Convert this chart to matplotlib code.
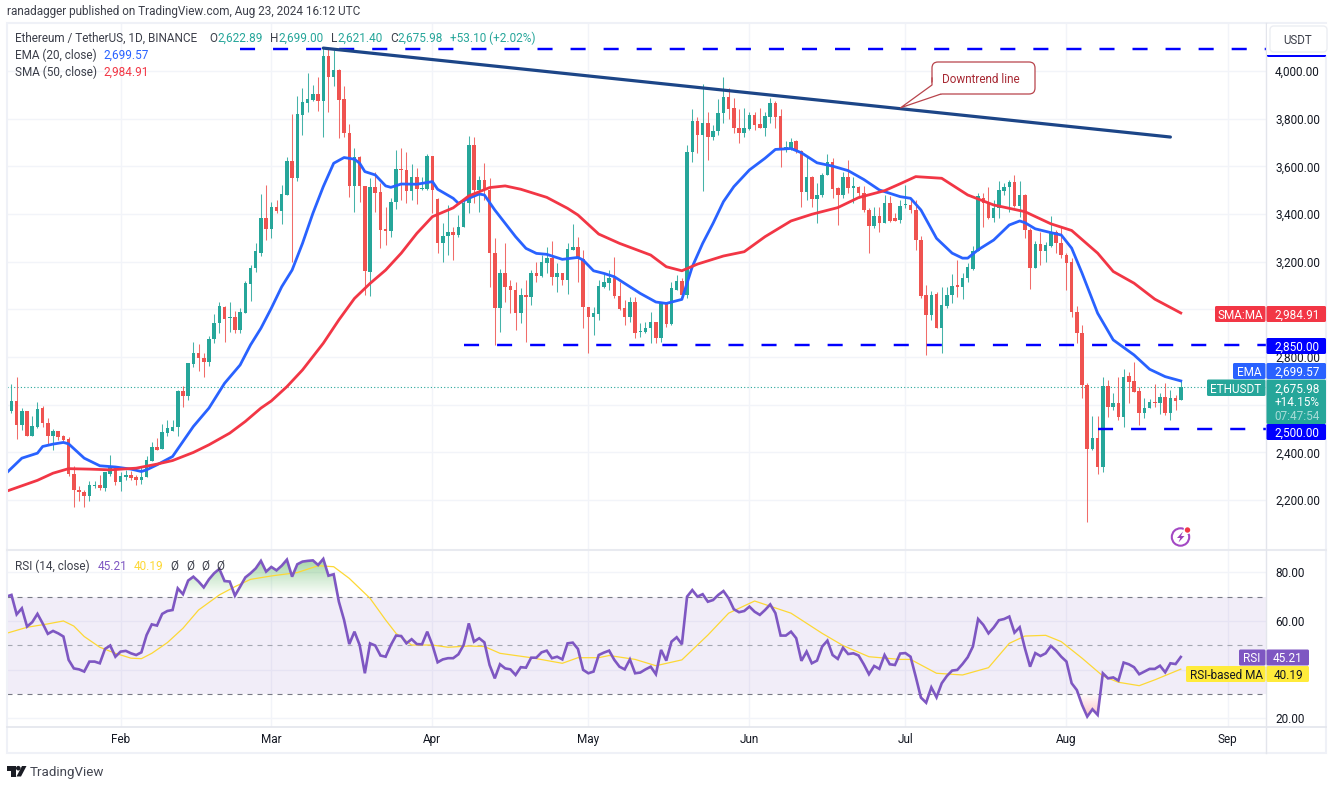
import numpy as np
import pandas as pd
import matplotlib
matplotlib.use('Agg')
import matplotlib.pyplot as plt
import matplotlib.dates as mdates
from matplotlib.path import Path
from matplotlib.patches import Circle, FancyBboxPatch, Polygon, Rectangle

plt.rcParams['font.family'] = ['Roboto', 'DejaVu Sans']

start_date = '2024-01-10'

# daily candles, Jan 10 -> Aug 23
opens = [
    2340, 2574, 2616, 2516, 2574, 2467, 2506, 2588, 2525, 2467, 2488, 2470, 2456, 2311, 2244, 2232, 2216, 2258, 2265, 2251, 2311, 2341,
    2274, 2299, 2306, 2295, 2283, 2297, 2365, 2422, 2415, 2481, 2492, 2505, 2658, 2635, 2770, 2816, 2798, 2778, 2876, 2942, 3011, 2963, 2970, 2914, 2984, 3105, 3175, 3238, 3382,
    3336, 3431, 3414, 3480, 3624, 3550, 3816, 3865, 3879, 3904, 3874, 4063, 3976, 4004, 3881, 3739, 3518, 3641, 3518, 3155, 3515, 3494, 3336, 3327, 3452, 3588, 3585, 3498, 3557, 3504, 3504,
    3645, 3464, 3278, 3306, 3326, 3312, 3347, 3448, 3690, 3501, 3543, 3501, 3235, 3005, 3151, 3098, 3081, 2983, 3060, 3053, 3151, 3140, 3196, 3214, 3134, 3151, 3123, 3249, 3260, 3211,
    3011, 2967, 2981, 3095, 3112, 3130, 3056, 3005, 2970, 3032, 2906, 2906, 2923, 2946, 2879, 3025, 2939, 3081, 3120, 3060, 3662, 3792, 3731, 3780, 3725, 3750, 3822, 3892, 3843, 3759, 3741,
    3755, 3815, 3776, 3762, 3808, 3864, 3811, 3669, 3676, 3706, 3666, 3494, 3557, 3462, 3480, 3564, 3617, 3508, 3480, 3557, 3508, 3515, 3490, 3417, 3350, 3392, 3364, 3445, 3382, 3375,
    3438, 3438, 3417, 3291, 3061, 2977, 3065, 2924, 3015, 3061, 3101, 3096, 3131, 3168, 3247, 3466, 3445, 3382, 3424, 3498, 3515, 3535, 3434, 3480, 3333, 3173, 3275, 3247, 3266, 3326, 3277,
    3229, 3197, 2987, 2900, 2683, 2414, 2460, 2340, 2679, 2592, 2609, 2548, 2721, 2700, 2658, 2564, 2585, 2613, 2606, 2632, 2567, 2627, 2622,
]
highs = [
    2578, 2688, 2715, 2586, 2575, 2551, 2611, 2593, 2544, 2498, 2491, 2474, 2463, 2345, 2260, 2241, 2279, 2279, 2306, 2320, 2390, 2344,
    2320, 2327, 2323, 2304, 2339, 2387, 2443, 2460, 2520, 2535, 2537, 2660, 2680, 2776, 2865, 2855, 2819, 2889, 2981, 3030, 3014, 3032, 2993, 3004, 3120, 3185, 3278, 3484, 3522,
    3452, 3459, 3522, 3638, 3820, 3895, 3928, 3993, 3942, 3975, 4095, 4091, 4088, 4007, 3935, 3778, 3676, 3644, 3518, 3550, 3578, 3532, 3431, 3466, 3669, 3676, 3662, 3610, 3592, 3557, 3652,
    3645, 3466, 3361, 3438, 3347, 3396, 3458, 3727, 3722, 3561, 3615, 3550, 3298, 3168, 3277, 3123, 3116, 3088, 3123, 3165, 3200, 3228, 3260, 3288, 3193, 3151, 3280, 3358, 3302, 3249,
    3011, 3011, 3123, 3151, 3165, 3218, 3116, 3040, 3053, 3051, 2941, 2949, 2990, 2949, 3032, 3032, 3116, 3144, 3130, 3690, 3839, 3808, 3945, 3829, 3773, 3881, 3976, 3927, 3885, 3839, 3846,
    3829, 3829, 3846, 3829, 3885, 3875, 3839, 3706, 3717, 3710, 3669, 3640, 3560, 3529, 3571, 3652, 3634, 3515, 3578, 3627, 3557, 3518, 3518, 3424, 3431, 3431, 3480, 3476, 3403, 3459,
    3522, 3466, 3459, 3308, 3103, 3078, 3075, 3096, 3096, 3149, 3208, 3152, 3196, 3266, 3490, 3487, 3512, 3459, 3540, 3529, 3543, 3564, 3540, 3484, 3340, 3285, 3326, 3284, 3392, 3333, 3347,
    3235, 3215, 3016, 2935, 2693, 2553, 2553, 2718, 2704, 2648, 2715, 2749, 2736, 2778, 2676, 2627, 2623, 2687, 2648, 2690, 2662, 2641, 2699,
]
lows = [
    2341, 2565, 2457, 2495, 2467, 2467, 2502, 2506, 2432, 2411, 2453, 2449, 2302, 2170, 2195, 2170, 2195, 2251, 2244, 2237, 2300, 2265,
    2239, 2283, 2285, 2262, 2267, 2297, 2365, 2411, 2415, 2470, 2490, 2471, 2590, 2620, 2760, 2740, 2718, 2763, 2858, 2900, 2865, 2907, 2903, 2903, 2984, 3036, 3158, 3222, 3291,
    3298, 3403, 3357, 3480, 3200, 3540, 3732, 3830, 3874, 3832, 3722, 3830, 3935, 3720, 3725, 3473, 3410, 3452, 3060, 3056, 3410, 3257, 3270, 3303, 3420, 3459, 3445, 3459, 3442, 3500, 3501,
    3403, 3236, 3200, 3230, 3207, 3305, 3347, 3406, 3448, 3410, 3459, 3095, 2850, 2907, 3033, 2983, 2914, 2942, 2865, 3018, 3116, 3137, 3151, 3102, 3072, 3102, 3063, 3249, 3116, 2920,
    2816, 2893, 2956, 3088, 3081, 3046, 2997, 2935, 2949, 2879, 2886, 2900, 2860, 2860, 2865, 2928, 2935, 3081, 3053, 3046, 3620, 3655, 3498, 3627, 3710, 3731, 3780, 3800, 3738, 3699, 3724,
    3752, 3752, 3759, 3727, 3780, 3759, 3599, 3662, 3669, 3655, 3431, 3459, 3428, 3361, 3473, 3564, 3466, 3354, 3466, 3487, 3445, 3466, 3410, 3238, 3340, 3326, 3361, 3368, 3372, 3361,
    3424, 3406, 3250, 3047, 2809, 2956, 2921, 2819, 3005, 3026, 3051, 3043, 3113, 3166, 3243, 3347, 3378, 3368, 3382, 3480, 3410, 3431, 3387, 3298, 3085, 3173, 3187, 3200, 3263, 3235, 3215,
    3082, 2967, 2858, 2630, 2110, 2410, 2310, 2320, 2550, 2576, 2536, 2506, 2609, 2655, 2516, 2546, 2585, 2592, 2562, 2557, 2534, 2578, 2621,
]
closes = [
    2578, 2616, 2516, 2574, 2467, 2509, 2583, 2525, 2467, 2488, 2463, 2453, 2311, 2241, 2232, 2216, 2265, 2265, 2251, 2316, 2341, 2274,
    2302, 2306, 2292, 2283, 2297, 2369, 2422, 2411, 2485, 2502, 2505, 2658, 2635, 2774, 2816, 2795, 2778, 2876, 2942, 3014, 2960, 2970, 2914, 2988, 3109, 3175, 3243, 3382, 3336,
    3428, 3414, 3484, 3624, 3550, 3820, 3869, 3881, 3904, 3874, 4063, 3976, 4004, 3879, 3739, 3518, 3641, 3518, 3160, 3515, 3490, 3333, 3327, 3452, 3588, 3585, 3498, 3557, 3504, 3511, 3645,
    3501, 3278, 3308, 3326, 3312, 3347, 3448, 3690, 3501, 3543, 3501, 3235, 3005, 3151, 3095, 3081, 2983, 3060, 3053, 3151, 3140, 3200, 3214, 3134, 3151, 3123, 3252, 3260, 3211, 3009,
    2967, 2984, 3098, 3116, 3130, 3056, 3002, 2970, 3032, 2900, 2909, 2923, 2946, 2879, 3032, 2939, 3088, 3120, 3060, 3662, 3792, 3731, 3780, 3725, 3750, 3822, 3892, 3839, 3759, 3741, 3759,
    3815, 3773, 3762, 3811, 3864, 3808, 3669, 3680, 3701, 3669, 3494, 3557, 3462, 3480, 3564, 3617, 3504, 3480, 3557, 3508, 3518, 3487, 3417, 3350, 3392, 3364, 3445, 3372, 3372, 3434,
    3442, 3417, 3291, 3057, 2977, 3061, 2921, 3019, 3061, 3099, 3096, 3131, 3177, 3247, 3476, 3445, 3382, 3424, 3501, 3515, 3535, 3434, 3480, 3333, 3173, 3275, 3247, 3269, 3326, 3277, 3229,
    3194, 2987, 2900, 2683, 2414, 2460, 2340, 2677, 2592, 2609, 2548, 2718, 2697, 2655, 2564, 2585, 2611, 2609, 2632, 2567, 2627, 2616, 2676,
]

# RSI (14), one value per day
rsi = [
    70.0, 70.7, 62.7, 65.2, 57.7, 59.5, 62.9, 59.0, 54.7, 55.9, 54.9, 53.6, 44.0, 40.5, 40.1, 39.2, 43.3, 43.3, 42.6, 48.5, 49.9, 45.3,
    47.4, 47.7, 46.7, 46.0, 47.1, 54.2, 58.6, 58.1, 62.9, 64.1, 64.5, 73.4, 71.0, 76.6, 78.2, 76.2, 73.8, 77.1, 79.6, 81.4, 76.4, 76.2, 70.4, 74.1, 77.9, 79.6, 81.6, 84.7, 80.3,
    82.2, 80.8, 82.7, 85.2, 78.2, 83.3, 84.4, 84.7, 84.9, 83.0, 85.5, 78.6, 79.2, 67.9, 60.4, 50.5, 55.6, 50.1, 38.5, 50.8, 49.9, 45.8, 45.3, 50.1, 54.0, 53.8, 50.8, 52.5, 50.5, 50.4, 55.6,
    50.1, 43.0, 44.2, 44.7, 44.7, 46.3, 50.1, 59.0, 51.5, 52.9, 51.2, 41.9, 36.4, 42.2, 40.5, 40.1, 37.8, 41.0, 40.8, 44.9, 44.9, 47.1, 47.8, 44.7, 45.3, 44.2, 50.8, 51.1, 48.5, 39.9,
    38.5, 39.2, 46.0, 47.0, 47.8, 44.0, 41.2, 40.1, 44.2, 38.5, 38.8, 40.1, 41.2, 38.1, 48.1, 43.7, 51.5, 53.3, 50.4, 70.0, 72.7, 70.0, 71.0, 67.9, 68.6, 70.7, 72.3, 69.3, 64.8, 63.6, 64.1,
    65.9, 63.8, 62.5, 64.5, 66.8, 63.2, 54.0, 54.0, 55.6, 52.9, 43.6, 47.4, 42.6, 43.7, 49.5, 51.9, 46.0, 44.4, 49.0, 46.4, 46.7, 45.8, 42.2, 38.1, 41.5, 40.3, 46.0, 42.2, 41.9, 46.6,
    46.8, 45.3, 37.1, 28.5, 26.4, 32.7, 28.6, 34.4, 37.4, 39.6, 39.9, 42.3, 45.1, 49.5, 60.8, 58.4, 54.9, 57.3, 60.3, 60.8, 61.8, 55.2, 57.4, 48.8, 41.2, 46.8, 45.6, 46.7, 49.7, 47.8, 45.3,
    43.3, 34.4, 31.6, 25.5, 20.7, 23.7, 21.4, 38.5, 36.4, 36.8, 35.5, 42.9, 42.2, 41.0, 38.1, 39.2, 40.3, 40.3, 41.6, 38.9, 42.6, 42.3, 45.2,
]

# moving averages, read every few days
ema_dates = ['01-10', '01-13', '01-16', '01-17', '01-19', '01-21', '01-22', '01-25', '01-28', '01-31', '02-03', '02-05', '02-06', '02-08',
             '02-11', '02-13', '02-15', '02-18', '02-21', '02-24', '02-26', '02-28', '03-01', '03-03', '03-05', '03-07', '03-09', '03-11',
             '03-13', '03-15', '03-17', '03-18', '03-19', '03-21', '03-23', '03-24', '03-26', '03-29', '04-01', '04-02', '04-05', '04-06',
             '04-08', '04-10', '04-11', '04-13', '04-15', '04-17', '04-19', '04-21', '04-23', '04-26', '04-29', '04-30', '05-02', '05-04',
             '05-06', '05-09', '05-11', '05-14', '05-16', '05-19', '05-21', '05-23', '05-25', '05-27', '05-29', '06-01', '06-04', '06-06',
             '06-09', '06-11', '06-14', '06-17', '06-20', '06-23', '06-26', '06-30', '07-02', '07-04', '07-07', '07-10', '07-12', '07-13',
             '07-15', '07-18', '07-21', '07-23', '07-24', '07-26', '07-29', '07-31', '08-02', '08-04', '08-07', '08-10', '08-14', '08-17',
             '08-20', '08-23']
ema_values = [2313, 2376, 2397, 2425, 2435, 2442, 2436, 2376, 2344, 2339, 2330, 2320, 2327, 2348,
              2383, 2446, 2509, 2586, 2690, 2767, 2851, 2921, 3005, 3095, 3165, 3277, 3403, 3515,
              3613, 3637, 3630, 3613, 3578, 3564, 3518, 3512, 3526, 3525, 3536, 3504, 3466, 3445,
              3466, 3484, 3480, 3417, 3361, 3305, 3256, 3235, 3231, 3210, 3218, 3207, 3162, 3151,
              3137, 3095, 3067, 3031, 3025, 3042, 3179, 3277, 3361, 3452, 3515, 3585, 3634, 3671,
              3675, 3657, 3615, 3601, 3582, 3545, 3501, 3473, 3466, 3417, 3298, 3236, 3215, 3215,
              3250, 3291, 3354, 3371, 3364, 3338, 3322, 3312, 3257, 3152, 2984, 2872, 2809, 2749,
              2718, 2700]

sma_dates = ['01-10', '01-16', '01-19', '01-22', '01-26', '01-30', '02-04', '02-08', '02-11', '02-15', '02-18', '02-22', '02-25', '02-28',
             '03-01', '03-04', '03-07', '03-11', '03-14', '03-17', '03-20', '03-23', '03-26', '03-29', '04-01', '04-05', '04-08', '04-12',
             '04-15', '04-18', '04-23', '04-27', '04-29', '05-03', '05-07', '05-13', '05-16', '05-19', '05-22', '05-27', '05-31', '06-04',
             '06-09', '06-13', '06-18', '06-22', '06-27', '06-30', '07-03', '07-08', '07-13', '07-18', '07-24', '07-29', '08-02', '08-07',
             '08-10', '08-14', '08-18', '08-23']
sma_values = [2237, 2283, 2313, 2332, 2330, 2327, 2334, 2351, 2366, 2400, 2432, 2481, 2530, 2586,
              2616, 2676, 2746, 2858, 2956, 3046, 3109, 3165, 3236, 3319, 3389, 3426, 3476, 3511,
              3518, 3504, 3470, 3424, 3396, 3316, 3277, 3228, 3179, 3162, 3190, 3224, 3242, 3305,
              3371, 3399, 3427, 3469, 3498, 3527, 3557, 3550, 3480, 3438, 3410, 3359, 3331, 3236,
              3159, 3110, 3043, 2985]

rsi_ma_dates = ['01-10', '01-14', '01-18', '01-21', '01-23', '01-25', '01-28', '01-31', '02-03', '02-05', '02-07', '02-10', '02-13', '02-16',
                '02-20', '02-23', '02-26', '03-01', '03-06', '03-10', '03-13', '03-16', '03-20', '03-23', '03-25', '03-28', '04-01', '04-04',
                '04-08', '04-11', '04-14', '04-20', '04-26', '04-29', '05-03', '05-05', '05-10', '05-14', '05-19', '05-24', '05-28', '06-02',
                '06-09', '06-15', '06-19', '06-24', '06-30', '07-02', '07-07', '07-12', '07-17', '07-21', '07-24', '07-28', '07-31', '08-04',
                '08-08', '08-11', '08-15', '08-18', '08-23']
rsi_ma_values = [54.9, 57.4, 58.8, 60.0, 57.9, 53.6, 49.2, 46.7, 44.7, 44.5, 46.7, 51.1, 57.0, 64.5,
                 70.7, 74.1, 77.1, 78.5, 79.9, 82.7, 82.3, 77.5, 69.3, 60.4, 54.9, 50.1, 50.1, 49.2,
                 49.7, 49.5, 46.7, 44.9, 42.6, 44.9, 44.9, 45.8, 44.2, 41.6, 44.0, 54.2, 63.2, 68.2,
                 63.2, 54.9, 49.9, 45.3, 44.2, 44.2, 38.5, 37.8, 40.8, 50.8, 53.8, 54.1, 51.5, 44.7,
                 37.4, 34.8, 33.4, 35.8, 40.2]

# hand drawn levels on the chart: price, first day
levels = [(4094, '2024-02-24'), (2850, '2024-04-07'), (2500, '2024-08-07')]
trend_dates = ['2024-03-11', '2024-08-21']
trend_prices = [4096, 3723]

month_dates = ['2024-02-01', '2024-03-01', '2024-04-01', '2024-05-01', '2024-06-01', '2024-07-01', '2024-08-01', '2024-09-01']
month_labels = ['Feb', 'Mar', 'Apr', 'May', 'Jun', 'Jul', 'Aug', 'Sep']
price_ticks = [2200, 2400, 2600, 2800, 3000, 3200, 3400, 3600, 3800, 4000]
price_tick_labels = ['2,200.00', '2,400.00', '', '2,800.00', '3,000.00', '3,200.00', '3,400.00', '3,600.00', '3,800.00', '4,000.00']
rsi_ticks = [20, 40, 60, 80]
rsi_tick_labels = ['20.00', '', '60.00', '80.00']

GREEN = '#26a69a'
RED = '#ef5350'
BLUE = '#2962ff'
SMA_RED = '#f23645'
PURPLE = '#7e57c2'
YELLOW = '#fdd835'
LEVEL = '#0000ff'
GRID = '#f2f4f9'
TEXT = '#131722'
W, H = 1338, 785
FS = 8.5


def num(dates):
    return mdates.date2num(pd.to_datetime(dates))


def short_num(dates):
    return num(['2024-' + d for d in dates])


fig = plt.figure(figsize=(W / 100, H / 100), dpi=100, facecolor='white')
ax = fig.add_axes([7 / W, 1 - 549.5 / H, (1266 - 7) / W, (549.5 - 23) / H])
ax2 = fig.add_axes([7 / W, 1 - 726.5 / H, (1266 - 7) / W, (726.5 - 550.5) / H], sharex=ax)

days = num(pd.date_range(start_date, periods=len(closes)))
o, h, l, c = [np.array(a, dtype=float) for a in (opens, highs, lows, closes)]
up = c >= o
feb1 = num(['2024-02-01'])[0]
px_per_day = 5.197
x0 = feb1 - (120.6 - 7) / px_per_day
x1 = feb1 + (1266 - 120.6) / px_per_day

# candles
colors = np.where(up, GREEN, RED)
ax.vlines(days, l, h, colors=colors, lw=0.75, zorder=3, alpha=0.85)
ax.bar(days, np.maximum(np.abs(c - o), 3), bottom=np.minimum(o, c), width=0.68, color=colors, lw=0, zorder=3)

ax.plot(short_num(ema_dates), ema_values, color=BLUE, lw=2.0, zorder=4, solid_joinstyle='round')
ax.plot(short_num(sma_dates), sma_values, color=SMA_RED, lw=2.0, zorder=4, solid_joinstyle='round')
ax.axhline(closes[-1], color=GREEN, lw=0.8, ls=(0, (1, 2)), zorder=2)

for price, first in levels:
    ax.plot([num([first])[0], x1 + 5], [price, price], color=LEVEL, lw=1.75, ls=(0, (6.2, 7.4)), dash_capstyle='butt', zorder=5)
ax.plot(num(trend_dates), trend_prices, color='#1c4587', lw=2.3, zorder=5, solid_capstyle='round')

ax.set_xlim(x0, x1)
ax.set_ylim(4000 - (549.5 - 71) / 0.2384, 4000 + (71 - 23) / 0.2384)
ax.set_yticks(price_ticks)
ax.set_yticklabels(price_tick_labels)
ax.yaxis.tick_right()
ax.tick_params(axis='y', length=0, labelsize=FS, pad=6.5, labelcolor=TEXT)
ax.tick_params(axis='x', length=0, labelbottom=False)
ax.grid(color=GRID, lw=1)
ax.set_axisbelow(True)

# RSI pane
ax2.axhspan(30, 70, color=PURPLE, alpha=0.1, lw=0, zorder=1)
rsi_arr = np.array(rsi)


def gradient_fill(where_low, where_high, top_alpha, bottom_alpha, rgb, poly):
    path = Path.make_compound_path(*poly.get_paths())
    poly.remove()
    grad = np.zeros((64, 2, 4))
    grad[..., :3] = matplotlib.colors.to_rgb(rgb)
    grad[..., 3] = np.linspace(top_alpha, bottom_alpha, 64)[:, None]
    im = ax2.imshow(grad, extent=[x0, x1, where_low, where_high], aspect='auto', origin='upper', zorder=2)
    im.set_clip_path(path, transform=ax2.transData)


poly_up = ax2.fill_between(days, 70, rsi_arr, where=rsi_arr > 70, interpolate=True)
gradient_fill(70, 85.5, 0.5, 0.0, '#4caf50', poly_up)
poly_dn = ax2.fill_between(days, 30, rsi_arr, where=rsi_arr < 30, interpolate=True)
gradient_fill(20, 30, 0.0, 0.33, '#f23645', poly_dn)

for lvl, col in [(70, '#787b86'), (50, '#a5a8b2'), (30, '#787b86')]:
    ax2.axhline(lvl, color=col, lw=0.8, ls=(0, (4.5, 4.5)), zorder=3)
ax2.plot(short_num(rsi_ma_dates), rsi_ma_values, color=YELLOW, lw=0.9, zorder=4)
ax2.plot(days, rsi_arr, color=PURPLE, lw=1.9, zorder=5, solid_joinstyle='miter')

ax2.set_xlim(x0, x1)
ax2.set_ylim(80 - (726.5 - 572.3) / 2.433, 80 + (572.3 - 550.5) / 2.433)
ax2.set_xticks(num(month_dates))
ax2.set_xticklabels(month_labels)
ax2.set_yticks(rsi_ticks)
ax2.set_yticklabels(rsi_tick_labels)
ax2.yaxis.tick_right()
ax2.tick_params(axis='y', length=0, labelsize=FS, pad=6.5, labelcolor=TEXT)
ax2.tick_params(axis='x', length=0, labelsize=FS, pad=5, labelcolor=TEXT)
ax2.grid(color=GRID, lw=1)
ax2.set_axisbelow(True)

for a in (ax, ax2):
    for s in a.spines.values():
        s.set_visible(False)

# overlay in pixels for frame, tags and legends
ov = fig.add_axes([0, 0, 1, 1], zorder=10)
ov.set_xlim(0, W)
ov.set_ylim(H, 0)
ov.axis('off')
ov.patch.set_alpha(0)

ov.add_patch(Rectangle((6.5, 23), 1326 - 6.5, 753 - 23, fill=False, ec='#eff1f7', lw=1.5))
ov.plot([7, 1326], [550, 550], color='#e8eaf0', lw=1.5)
ov.plot([7, 1326], [727, 727], color='#e3e5ec', lw=1.2)
ov.plot([1266, 1266], [23, 753], color='#e3e5ec', lw=1.0)


def txt(x, y, s, color=TEXT, size=FS, ha='left', **kw):
    return ov.text(x, y, s, color=color, fontsize=size, ha=ha, va='center_baseline', **kw)


def tag(x0_, x1_, y0, y1, color):
    ov.add_patch(FancyBboxPatch((x0_ + 1, y0 + 1), x1_ - x0_ - 2, y1 - y0 - 2, boxstyle='round,pad=1,rounding_size=1.5',
                                fc=color, ec='none', zorder=5))


# top level tag sits under the USDT button
tag(1267, 1326, 41, 57, LEVEL)
ov.add_patch(Rectangle((1267, 24), 60, 31, fc='white', ec='none', zorder=5.5))
ov.add_patch(FancyBboxPatch((1272, 28), 53, 22, boxstyle='round,pad=2,rounding_size=4', fc='white', ec='#eceef3', lw=1, zorder=6))
txt(1298, 39.5, 'USDT', color='#3c3f4a', size=8.3, ha='center', zorder=7)

tag(1215, 1265.5, 306, 322, SMA_RED)
tag(1266.5, 1326, 306, 322, SMA_RED)
txt(1240, 314, 'SMA:MA', 'white', FS, 'center', zorder=7)
txt(1297, 314, '2,984.91', 'white', FS, 'center', zorder=7)

tag(1266.5, 1326, 338, 354, LEVEL)
txt(1297, 346, '2,850.00', 'white', FS, 'center', zorder=7)

tag(1233, 1265.5, 363, 379, BLUE)
tag(1266.5, 1326, 363, 379, BLUE)
txt(1249, 371, 'EMA', 'white', FS, 'center', zorder=7)
txt(1297, 371, '2,699.57', 'white', FS, 'center', zorder=7)

tag(1207, 1265.5, 379.5, 396, GREEN)
tag(1266.5, 1326, 379.5, 424, GREEN)
txt(1236, 388, 'ETHUSDT', 'white', FS, 'center', zorder=7)
txt(1297, 387.5, '2,675.98', 'white', FS, 'center', zorder=7)
txt(1297, 401, '+14.15%', 'white', FS, 'center', zorder=7)
txt(1297, 414.5, '07:47:54', '#a8dcd7', FS, 'center', zorder=7)

tag(1266.5, 1326, 424, 440, LEVEL)
txt(1297, 432, '2,500.00', 'white', FS, 'center', zorder=7)

tag(1239, 1265.5, 649.5, 665.5, PURPLE)
tag(1266.5, 1309, 649.5, 665.5, PURPLE)
txt(1252, 657.5, 'RSI', 'white', FS, 'center', zorder=7)
txt(1288, 657.5, '45.21', 'white', FS, 'center', zorder=7)

tag(1186, 1265.5, 666, 682, '#ffeb3b')
tag(1266.5, 1309, 666, 682, '#ffeb3b')
txt(1226, 674, 'RSI-based MA', TEXT, FS, 'center', zorder=7)
txt(1288, 674, '40.19', TEXT, FS, 'center', zorder=7)

# header and legends
txt(7, 10.5, 'ranadagger published on TradingView.com, Aug 23, 2024 16:12 UTC', '#3c3f4a', FS)
txt(15, 37, 'Ethereum / TetherUS, 1D, BINANCE', '#3c3f4a', FS)
for x, lab, xv, val in [(209, 'O', 217, '2,622.89'), (270, 'H', 278, '2,699.00'), (331, 'L', 337, '2,621.40'), (390, 'C', 397, '2,675.98')]:
    txt(x, 37, lab, '#3c3f4a', FS)
    txt(xv, 37, val, GREEN, FS)
txt(450, 37, '+53.10 (+2.02%)', GREEN, FS)
txt(15, 54, 'EMA (20, close)', '#3c3f4a', FS)
txt(103, 54, '2,699.57', BLUE, FS)
txt(15, 71, 'SMA (50, close)', '#3c3f4a', FS)
txt(103, 71, '2,984.91', SMA_RED, FS)
txt(15, 565, 'RSI (14, close)', '#3c3f4a', FS)
txt(98, 565, '45.21', PURPLE, FS)
txt(134, 565, '40.19', YELLOW, FS)
for x in (170, 186, 201, 216):
    txt(x, 565, 'Ø', '#3c3f4a', FS)

# downtrend callout
CALL = '#b8444c'
ov.add_patch(FancyBboxPatch((937, 67), 93, 22, boxstyle='round,pad=5,rounding_size=6', fc='white', ec=CALL, lw=0.9, zorder=3))
ov.add_patch(Polygon([(932.5, 82), (900.7, 107.7), (942, 93.5)], closed=True, fc='white', ec='none', zorder=3.5))
ov.plot([932, 932, 900.7, 941], [78, 85, 107.7, 94], color=CALL, lw=0.9, zorder=4)
txt(981, 78, 'Downtrend line', '#a82a34', FS, 'center', zorder=4)

# earnings style icon
ov.add_patch(Circle((1180.5, 537), 8.7, fill=False, ec='#a348c4', lw=1.5, zorder=3))
ov.add_patch(Polygon([(1183, 531.5), (1177, 538), (1180.3, 538), (1178.5, 542.5), (1184.5, 536), (1181, 536)], closed=True,
                     fc='#9c3fb8', ec='none', zorder=4))
ov.add_patch(Circle((1187.5, 530), 4, fc='white', ec='none', zorder=4))
ov.add_patch(Circle((1187.5, 530), 2.7, fc='#f23645', ec='none', zorder=5))

# logo
ov.add_patch(Polygon([(7, 766), (15.5, 766), (15.5, 776.5), (11, 776.5), (11, 770.5), (7, 770.5)], closed=True, fc='#1a1c24', ec='none'))
ov.add_patch(Circle((18.3, 768.2), 2.3, fc='#1a1c24', ec='none'))
ov.add_patch(Polygon([(22, 766), (26.5, 766), (21, 776.5), (16.5, 776.5)], closed=True, fc='#1a1c24', ec='none'))
txt(30, 771, 'TradingView', '#434651', 9.6)

fig.savefig('out.png', dpi=100, facecolor='white')
